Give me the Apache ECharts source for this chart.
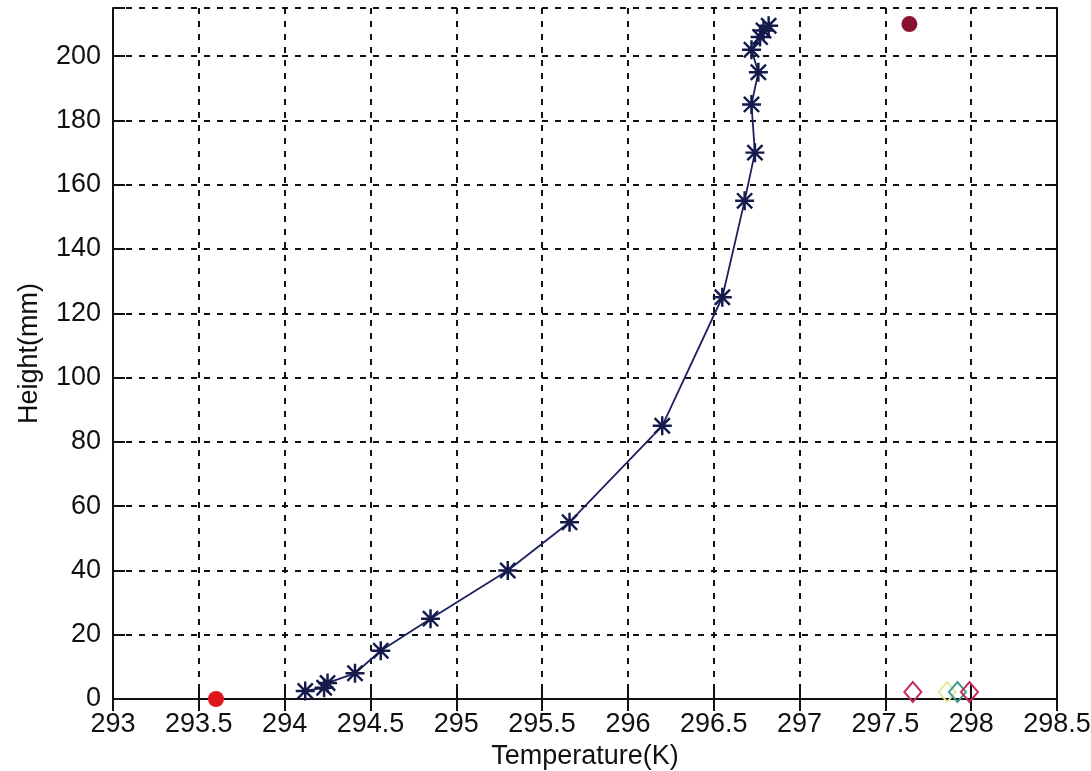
<!DOCTYPE html>
<html>
<head>
<meta charset="utf-8">
<script src="https://cdn.jsdelivr.net/npm/echarts@6/dist/echarts.min.js"></script>
<style>
  html, body { margin: 0; padding: 0; background: #fff; }
  #chart { width: 1091px; height: 771px; }
</style>
</head>
<body>
<div id="chart"></div>
<script>
// Temperature profile (K) against height (mm)
const profileTemp = [294.12, 294.23, 294.25, 294.41, 294.56, 294.85, 295.30, 295.66, 296.20, 296.55, 296.68, 296.74, 296.72, 296.76, 296.72, 296.77, 296.79, 296.82];
const profileHeight = [2.5, 3.5, 5, 8, 15, 25, 40, 55, 85, 125, 155, 170, 185, 195, 202, 206, 208, 209.5];

// Single reference points
const surfacePoint = [293.6, 0];
const topPoint = [297.64, 210];

// Open diamond markers near the floor
const diamondTemps = [297.66, 297.86, 297.92, 297.99];
const diamondHeights = [2.2, 2.2, 2.2, 2.2];
const diamondColors = ['#c8285a', '#e6eaa0', '#3a9c92', '#c8285a'];

const xTicks = { min: 293, max: 298.5, step: 0.5 };
const yTicks = { min: 0, max: 215, step: 20 };

// Eight-armed asterisk marker built from thin bars
const asterisk = 'path://M0 8.7L20 8.7L20 11.3L0 11.3Z M8.7 0L11.3 0L11.3 20L8.7 20Z ' +
  'M2.9 1.1L18.9 17.1L17.1 18.9L1.1 2.9Z M17.1 1.1L18.9 2.9L2.9 18.9L1.1 17.1Z';

const font = "'Liberation Sans', Arial, sans-serif";
const ink = '#111';
const fontSize = 27;

const chart = echarts.init(document.getElementById('chart'));

const frameAxis = {
  axisLine: { show: true, lineStyle: { color: ink, width: 2 } },
  axisTick: { show: true, inside: true, length: 12, lineStyle: { color: ink, width: 2 } }
};

chart.setOption({
  animation: false,
  backgroundColor: '#fff',
  grid: { left: 113, right: 34, top: 8, bottom: 72, containLabel: false, outerBoundsMode: 'none' },
  xAxis: [
    Object.assign({
      type: 'value', position: 'bottom',
      min: xTicks.min, max: xTicks.max, interval: xTicks.step,
      name: 'Temperature(K)', nameLocation: 'middle', nameGap: 44,
      nameTextStyle: { fontFamily: font, fontSize: fontSize, color: ink },
      axisLabel: { fontFamily: font, fontSize: fontSize, color: ink, margin: 12 },
      splitLine: { show: true, lineStyle: { color: '#111', width: 2, type: [6, 7] } }
    }, frameAxis),
    Object.assign({
      type: 'value', position: 'top',
      min: xTicks.min, max: xTicks.max, interval: xTicks.step,
      axisLabel: { show: false }, splitLine: { show: false }
    }, frameAxis)
  ],
  yAxis: [
    Object.assign({
      type: 'value', position: 'left',
      min: yTicks.min, max: yTicks.max, interval: yTicks.step,
      name: 'Height(mm)', nameLocation: 'middle', nameGap: 70,
      nameTextStyle: { fontFamily: font, fontSize: fontSize, color: ink },
      axisLabel: {
        fontFamily: font, fontSize: fontSize, color: ink, margin: 12,
        formatter: v => (v % yTicks.step === 0 ? String(v) : '')
      },
      splitLine: { show: true, lineStyle: { color: '#111', width: 2, type: [6, 7] } }
    }, frameAxis),
    Object.assign({
      type: 'value', position: 'right',
      min: yTicks.min, max: yTicks.max, interval: yTicks.step,
      axisLabel: { show: false }, splitLine: { show: false }
    }, frameAxis)
  ],
  series: [
    {
      type: 'line',
      data: profileTemp.map((t, i) => [t, profileHeight[i]]),
      lineStyle: { color: '#1c2260', width: 1.8 },
      symbol: asterisk,
      symbolSize: 19,
      itemStyle: { color: '#141a4c', opacity: 1 },
      z: 5
    },
    {
      type: 'scatter',
      data: [surfacePoint],
      symbol: 'circle', symbolSize: 16,
      itemStyle: { color: '#e0141a', opacity: 1 },
      z: 6
    },
    {
      type: 'scatter',
      data: [topPoint],
      symbol: 'circle', symbolSize: 16,
      itemStyle: { color: '#861230', opacity: 1 },
      z: 6
    },
    {
      type: 'scatter',
      data: diamondTemps.map((t, i) => ({
        value: [t, diamondHeights[i]],
        itemStyle: { color: 'rgba(255,255,255,0)', borderColor: diamondColors[i], borderWidth: 2, opacity: 1 }
      })),
      symbol: 'diamond', symbolSize: [17, 20],
      z: 6
    }
  ]
});
</script>
</body>
</html>
